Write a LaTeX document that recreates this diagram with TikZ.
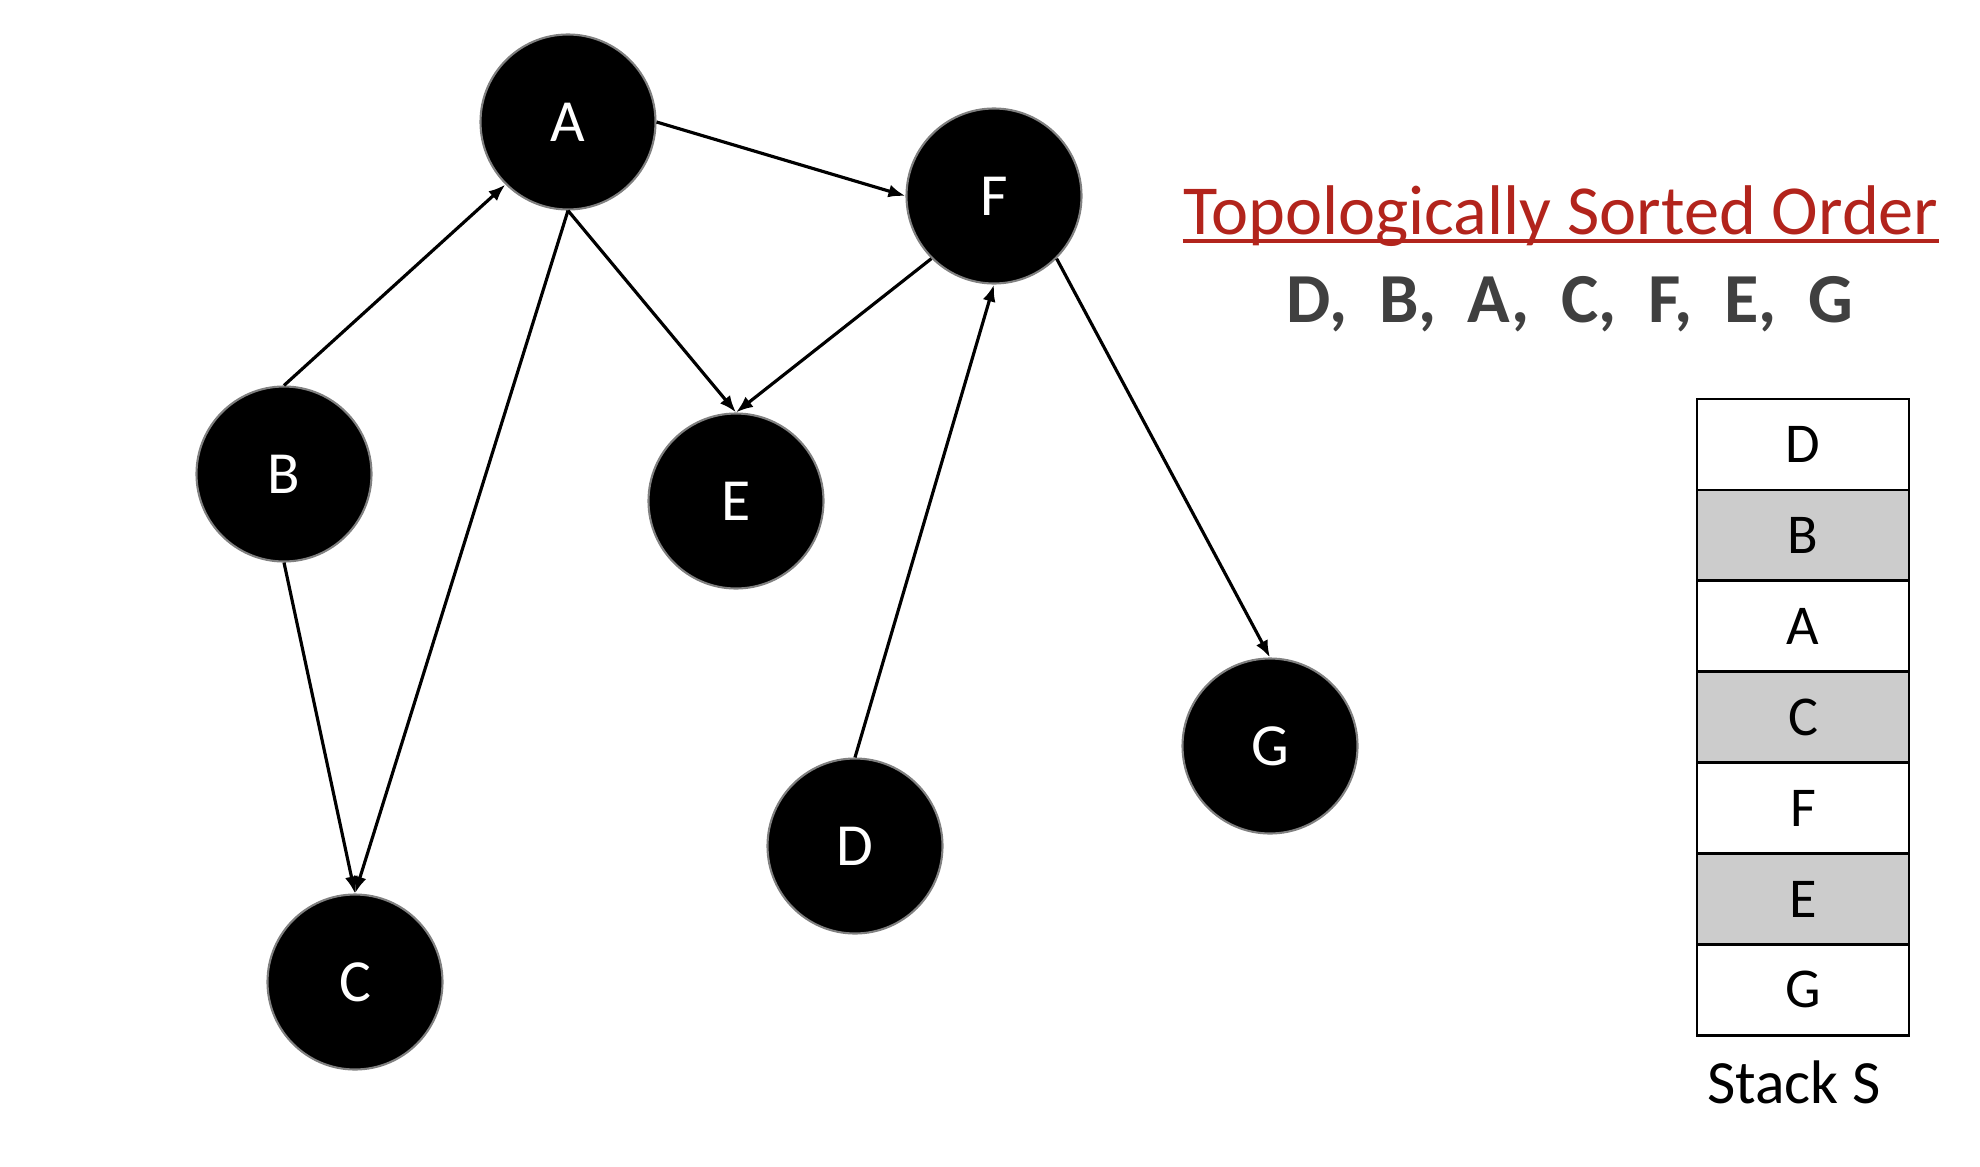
\documentclass[tikz,border=0pt]{standalone}
\usepackage{fontspec}
\setmainfont{Carlito}
\usetikzlibrary{arrows.meta,positioning}

\definecolor{titlered}{RGB}{178,36,28}
\definecolor{ordergray}{RGB}{64,64,64}
\definecolor{cellgray}{RGB}{204,204,204}

\tikzset{
  vertex/.style={circle, fill=black, draw=gray, line width=0.6pt, minimum size=1.75cm,
    inner sep=0pt, text=white, font=\fontsize{17}{20}\selectfont},
  link/.style={-{Latex[length=0.17cm,width=0.13cm]}, line width=0.9pt},
  cell/.style={draw, line width=0.8pt, minimum width=2.12cm, minimum height=0.909cm,
    inner sep=0pt, outer sep=0pt, font=\fontsize{16}{19}\selectfont},
}

\begin{document}
\begin{tikzpicture}
\useasboundingbox (0,0) rectangle (19.8,-11.66);

% vertices
\node[vertex] (A) at (5.68,-1.22) {A};
\node[vertex] (F) at (9.94,-1.96) {F};
\node[vertex] (B) at (2.84,-4.74) {B};
\node[vertex] (E) at (7.36,-5.01) {E};
\node[vertex] (C) at (3.55,-9.82) {C};
\node[vertex] (D) at (8.55,-8.46) {D};
\node[vertex] (G) at (12.70,-7.46) {G};

% edges
\draw[link] (B.north) -- (A.south west);
\draw[link] (A.east) -- (F.west);
\draw[link] (A.south) -- (C.north);
\draw[link] (A.south) -- (E.north);
\draw[link] (F.south west) -- (E.north);
\draw[link] (D.north) -- (F.south);
\draw[link] (F.south east) -- (G.north);
\draw[link] (B.south) -- (C.north);

% sorted order
\node[anchor=base, inner sep=0pt, text=titlered, font=\fontsize{20}{24}\selectfont] (title) at (15.61,-2.34) {Topologically Sorted Order};
\draw[titlered, line width=1.1pt] ([yshift=-0.07cm]title.base west) -- ([yshift=-0.07cm]title.base east);
\node[anchor=base, inner sep=0pt, text=ordergray, font=\fontsize{20}{24}\selectfont\bfseries] (order) at (15.70,-3.22) {D,~ B,~ A,~ C,~ F,~ E,~ G};

% stack
\node[cell] (s1) at (18.03,-4.445) {D};
\node[cell, fill=cellgray, below=0pt of s1] (s2) {B};
\node[cell, below=0pt of s2] (s3) {A};
\node[cell, fill=cellgray, below=0pt of s3] (s4) {C};
\node[cell, below=0pt of s4] (s5) {F};
\node[cell, fill=cellgray, below=0pt of s5] (s6) {E};
\node[cell, below=0pt of s6] (s7) {G};
\node[font=\fontsize{17.5}{21}\selectfont] (label) at (17.94,-10.82) {Stack S};

\end{tikzpicture}
\end{document}
